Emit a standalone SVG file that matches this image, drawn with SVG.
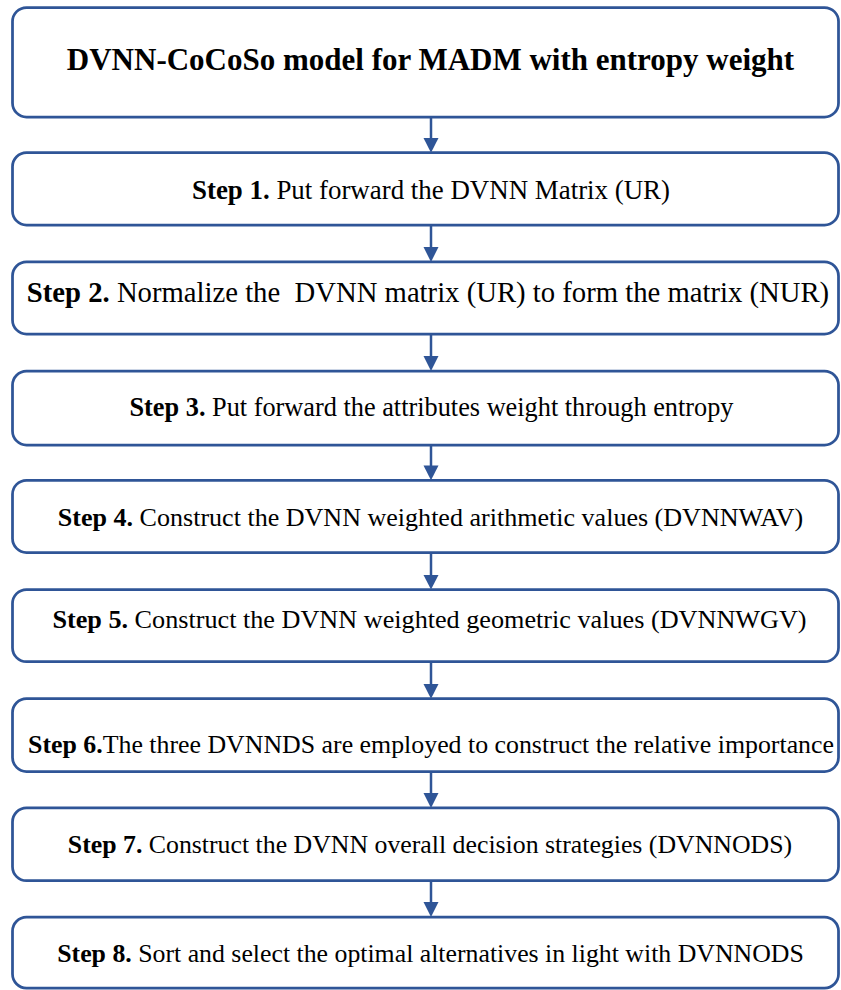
<svg xmlns="http://www.w3.org/2000/svg" width="841" height="990" viewBox="0 0 841 990">
  <style>
    text { font-family: 'Liberation Serif', 'Times New Roman', Times, 'DejaVu Serif', serif; fill: #000; text-anchor: middle; }
    .box { fill: #ffffff; stroke: #2F5597; stroke-width: 2.75; }
    .title { font-size: 31px; font-weight: bold; }
    .b { font-weight: bold; }
    .link { stroke: #2F5597; stroke-width: 2.5; fill: none; }
    .head { fill: #2F5597; }
  </style>
  <rect x="0" y="0" width="841" height="990" fill="#ffffff"/>

  <!-- flow connectors -->
  <g id="connectors">
    <line class="link" x1="431" y1="117" x2="431" y2="140"/>
    <polygon class="head" points="423.5,138 438.5,138 431,152.7"/>
    <line class="link" x1="431" y1="225" x2="431" y2="249"/>
    <polygon class="head" points="423.5,247 438.5,247 431,261.9"/>
    <line class="link" x1="431" y1="334" x2="431" y2="358"/>
    <polygon class="head" points="423.5,356 438.5,356 431,371.1"/>
    <line class="link" x1="431" y1="445" x2="431" y2="467"/>
    <polygon class="head" points="423.5,465.5 438.5,465.5 431,480.3"/>
    <line class="link" x1="431" y1="552.5" x2="431" y2="577"/>
    <polygon class="head" points="423.5,575 438.5,575 431,589.5"/>
    <line class="link" x1="431" y1="661.7" x2="431" y2="686"/>
    <polygon class="head" points="423.5,684 438.5,684 431,698.7"/>
    <line class="link" x1="431" y1="771.5" x2="431" y2="795"/>
    <polygon class="head" points="423.5,793 438.5,793 431,807.9"/>
    <line class="link" x1="431" y1="880.7" x2="431" y2="904"/>
    <polygon class="head" points="423.5,902 438.5,902 431,917.1"/>
  </g>

  <g id="title">
    <rect class="box" x="12.5" y="7.5" width="826" height="109.5" rx="14"/>
    <text class="title" x="430.5" y="70">DVNN-CoCoSo model for MADM with entropy weight</text>
  </g>

  <g id="step1">
    <rect class="box" x="12.5" y="152.7" width="826" height="72.3" rx="14"/>
    <text x="431" y="199" style="font-size:26.9px"><tspan class="b">Step 1.</tspan> Put forward the DVNN Matrix (UR)</text>
  </g>

  <g id="step2">
    <rect class="box" x="12.5" y="261.9" width="826" height="72.1" rx="14"/>
    <text x="428" y="301.5" style="font-size:28.7px" xml:space="preserve"><tspan class="b">Step 2.</tspan> Normalize the  DVNN matrix (UR) to form the matrix (NUR)</text>
  </g>

  <g id="step3">
    <rect class="box" x="12.5" y="371.1" width="826" height="73.9" rx="14"/>
    <text x="431.5" y="416" style="font-size:26.3px"><tspan class="b">Step 3.</tspan> Put forward the attributes weight through entropy</text>
  </g>

  <g id="step4">
    <rect class="box" x="12.5" y="480.3" width="826" height="72.2" rx="14"/>
    <text x="430.5" y="526" style="font-size:26.05px"><tspan class="b">Step 4.</tspan> Construct the DVNN weighted arithmetic values (DVNNWAV)</text>
  </g>

  <g id="step5">
    <rect class="box" x="12.5" y="589.5" width="826" height="72.2" rx="14"/>
    <text x="429.5" y="628" style="font-size:26.2px"><tspan class="b">Step 5.</tspan> Construct the DVNN weighted geometric values (DVNNWGV)</text>
  </g>

  <g id="step6">
    <rect class="box" x="12.5" y="698.7" width="826" height="72.8" rx="14"/>
    <text x="431" y="752.5" style="font-size:25.85px"><tspan class="b">Step 6.</tspan>The three DVNNDS are employed to construct the relative importance</text>
  </g>

  <g id="step7">
    <rect class="box" x="12.5" y="807.9" width="826" height="72.8" rx="14"/>
    <text x="430" y="852.7" style="font-size:25.8px"><tspan class="b">Step 7.</tspan> Construct the DVNN overall decision strategies (DVNNODS)</text>
  </g>

  <g id="step8">
    <rect class="box" x="12.5" y="917.1" width="826" height="71" rx="14"/>
    <text x="430.5" y="961.7" style="font-size:25.8px"><tspan class="b">Step 8.</tspan> Sort and select the optimal alternatives in light with DVNNODS</text>
  </g>
</svg>
